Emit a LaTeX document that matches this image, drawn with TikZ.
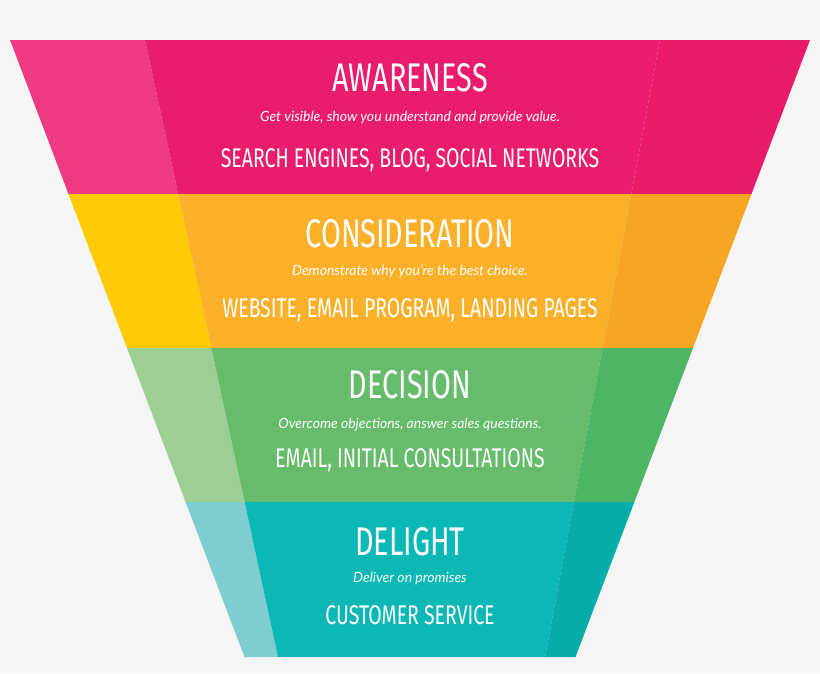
\documentclass[tikz,border=0pt]{standalone}
\usepackage{fontspec}
\newfontfamily\dinfont[FakeStretch=0.72]{Fira Sans}
\newfontfamily\subfont{Lato}
\usepackage{tikz}

\definecolor{pinkmid}{HTML}{E91C6E}
\definecolor{pinkleft}{HTML}{EE3A82}
\definecolor{pinkright}{HTML}{E81B6B}
\definecolor{orgmid}{HTML}{FBB02A}
\definecolor{orgleft}{HTML}{FFCB05}
\definecolor{orgright}{HTML}{F6A623}
\definecolor{grnmid}{HTML}{66BC6B}
\definecolor{grnleft}{HTML}{9DCF92}
\definecolor{grnright}{HTML}{4DB563}
\definecolor{tealmid}{HTML}{0BB8B5}
\definecolor{tealleft}{HTML}{7ECDD0}
\definecolor{tealright}{HTML}{06ADA9}

\tikzset{
  title/.style={text=white, font=\dinfont\fontsize{40}{40}\selectfont},
  tagline/.style={text=white, font=\subfont\itshape\fontsize{14}{14}\selectfont},
  channels/.style={text=white, font=\dinfont\fontsize{27}{27}\selectfont}
}

\begin{document}
\begin{tikzpicture}[x=1pt,y=-1pt]
        % background
        \fill[black!4] (0,0) rectangle (820,673);
        \useasboundingbox (0,0) rectangle (820,673);

        % draw bands
        \foreach \ya/\yb/\la/\lb/\sa/\sb/\ra/\rb/\qa/\qb/\c in {
            40/194/10/68.5/145/178.2/660/631.3/810/751.5/pink,
            194/348/68.5/127/178.2/211.4/631.3/602.6/751.5/693/org,
            348/502/127/185.6/211.4/244.6/602.6/573.9/693/634.4/grn,
            502/657/185.6/244.5/244.6/278/573.9/545/634.4/575.5/teal}
        {
            \fill[\c left] (\la,\ya) -- (\sa,\ya) -- (\sb,\yb) -- (\lb,\yb) -- cycle;
            \fill[\c mid] (\sa,\ya) -- (\ra,\ya) -- (\rb,\yb) -- (\sb,\yb) -- cycle;
            \fill[\c right] (\ra,\ya) -- (\qa,\ya) -- (\qb,\yb) -- (\rb,\yb) -- cycle;
        }

        % draw nodes
        \node[title] (aware) at (410,78) {AWARENESS};
        \node[tagline] (awaretag) at (410,118) {Get visible, show you understand and provide value.};
        \node[channels] (awarech) at (410,160) {SEARCH ENGINES, BLOG, SOCIAL NETWORKS};

        \node[title] (consid) at (410,234) {CONSIDERATION};
        \node[tagline] (considtag) at (410,271) {Demonstrate why you’re the best choice.};
        \node[channels] (considch) at (410,310) {WEBSITE, EMAIL PROGRAM, LANDING PAGES};

        \node[title] (decis) at (410,385) {DECISION};
        \node[tagline] (decistag) at (410,425) {Overcome objections, answer sales questions.};
        \node[channels] (decisch) at (410,460) {EMAIL, INITIAL CONSULTATIONS};

        \node[title] (delight) at (410,542) {DELIGHT};
        \node[tagline] (delighttag) at (410,579) {Deliver on promises};
        \node[channels] (delightch) at (410,615) {CUSTOMER SERVICE};
\end{tikzpicture}
\end{document}
